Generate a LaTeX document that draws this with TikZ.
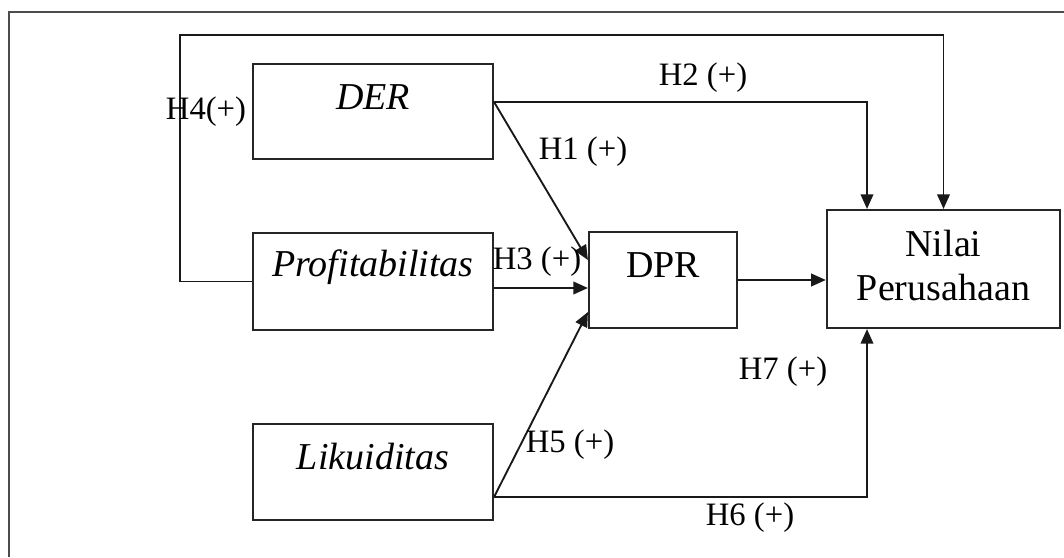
\documentclass[tikz,border=0pt]{standalone}
\usepackage{fontspec}
\setmainfont{Liberation Serif}
\usetikzlibrary{arrows.meta,calc}
\begin{document}
\begin{tikzpicture}[x=0.75pt,y=-0.75pt,
  box/.style={draw=black!85, line width=1.6pt, inner sep=0pt},
  boxtext/.style={font=\fontsize{28.5}{33}\selectfont, inner sep=0pt, align=center},
  hlbl/.style={font=\fontsize{24.5}{29}\selectfont, inner sep=0pt},
  conn/.style={draw=black!90, line width=1.4pt},
  arr/.style={conn, -{Triangle[length=11pt,width=9.5pt]}},
]
\useasboundingbox (0,0) rectangle (1064,557);
\draw[line width=1.6pt, draw=black!70] (9,557) -- (9,12) -- (1064,12);

% boxes
\node[box, minimum width=180pt, minimum height=71.25pt] (der) at (373,111.5) {};
\node[box, minimum width=180pt, minimum height=72.75pt] (prof) at (373,281.5) {};
\node[box, minimum width=180pt, minimum height=72pt] (lik) at (373,472) {};
\node[box, minimum width=111pt, minimum height=72pt] (dpr) at (663,280) {};
\node[box, minimum width=175pt, minimum height=88.5pt] (nilai) at (943.5,269) {};

% box texts
\node[boxtext] (tder) at (373,97) {\itshape DER};
\node[boxtext] (tprof) at (373,267) {\itshape Profitabilitas};
\node[boxtext] (tlik) at (373,457) {\itshape Likuiditas};
\node[boxtext] (tdpr) at (663,265) {DPR};
\node[boxtext] (tnilai) at (943.5,265) {Nilai\\Perusahaan};

% helper coordinates
\coordinate (top) at (0,35);
\coordinate (derout) at ($(der.east)+(0,-9.5)$);
\coordinate (likout) at ($(lik.east)+(0,25)$);
\coordinate (nilaiA) at ($(nilai.north)+(-76.5,0)$);
\coordinate (nilaiB) at ($(nilai.south)+(-76.5,0)$);

% connectors
\draw[arr] (derout) -- ($(dpr.west)+(0,-20)$);
\draw[arr] (derout) -| (nilaiA);
\draw[arr] (prof.west) -- ++(-72,0) |- (nilai.north |- top) -- (nilai.north);
\draw[arr] ($(prof.east)+(0,6.5)$) -- ($(dpr.west)+(0,8)$);
\draw[arr] (likout) -- ($(dpr.west)+(0,32)$);
\draw[arr] (likout) -| (nilaiB);
\draw[arr] (dpr.east) -- (dpr.east -| nilai.west);

% labels
\node[hlbl] (h4) at (206,112) {H4(+)};
\node[hlbl] (h2) at (703,78) {H2 (+)};
\node[hlbl] (h1) at (583,152) {H1 (+)};
\node[hlbl] (h3) at (537,262) {H3 (+)};
\node[hlbl] (h5) at (570,445) {H5 (+)};
\node[hlbl] (h6) at (750,518) {H6 (+)};
\node[hlbl] (h7) at (783,372) {H7 (+)};
\end{tikzpicture}
\end{document}
